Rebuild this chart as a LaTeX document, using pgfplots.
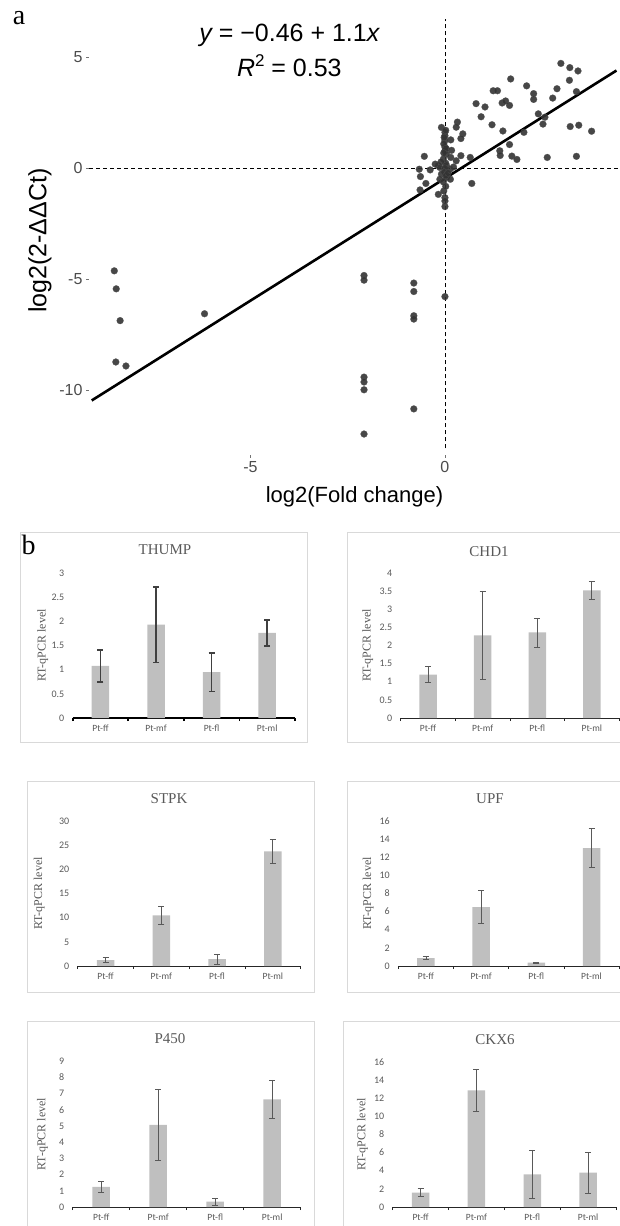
\documentclass[border=0pt]{standalone}
\usepackage{pgfplots}
\pgfplotsset{compat=1.18}
\usepackage{fontspec}
\setmainfont{Liberation Serif}
\newfontfamily\arial{Liberation Sans}
\newfontfamily\calibri{Carlito}
\definecolor{barfill}{HTML}{BFBFBF}
\definecolor{txtgray}{HTML}{595959}
\definecolor{boxgray}{HTML}{D9D9D9}
\definecolor{ptfill}{HTML}{333333}
\definecolor{errdark}{HTML}{404040}

\pgfplotsset{
  barchart/.style={
    scale only axis, anchor=south west,
    xmin=0.5, xmax=4.5, ymin=0,
    axis x line*=bottom, axis y line*=left,
    y axis line style={draw=none},
    x axis line style={draw=black!85, line width=0.8pt},
    xtick={1,2,3,4}, xticklabels={Pt-ff,Pt-mf,Pt-fl,Pt-ml},
    minor xtick={0.5,1.5,2.5,3.5,4.5},
    major tick length=0pt, minor tick length=3pt, tick align=outside,
    minor tick style={draw=black!85, line width=0.8pt},
    /pgf/number format/assume math mode=true,
    tick label style={font=\calibri\fontsize{9.5}{10}\selectfont, text=txtgray},
    yticklabel style={font=\calibri\fontsize{10}{10}\selectfont, xshift=-5pt},
    xticklabel style={yshift=-3pt},
    ylabel={RT-qPCR level},
    ylabel style={font=\fontsize{12}{13}\selectfont, text=txtgray, anchor=center},
    clip=false,
  },
  barplot/.style={ybar, bar width=17.5pt, fill=barfill, draw=none,
    error bars/y dir=both, error bars/y explicit,
    error bars/error bar style={draw=txtgray, line width=0.8pt},
    error bars/error mark options={rotate=90, draw=txtgray, line width=0.8pt, mark size=3pt}},
}

\begin{document}
\begin{tikzpicture}[x=1pt,y=1pt]
\path[use as bounding box] (0,0) rectangle (620,-1226);
\clip (0,0) rectangle (620,-1226);

% ---------------- panel a ----------------
\begin{axis}[at={(89pt,-454.7pt)}, anchor=south west, scale only axis,
  width=531pt, height=436pt,
  xmin=-9.15, xmax=4.5, ymin=-12.89, ymax=6.72,
  axis line style={draw=none},
  xtick={-5,0}, xticklabels={-5,0},
  ytick={-10,-5,0,5}, yticklabels={-10,-5,0,5},
  tick pos=left, tick align=outside, major tick length=3pt,
  tick style={draw=black!55, line width=0.6pt},
  tick label style={font=\arial\fontsize{16}{16}\selectfont, text=black!70},
  xlabel={log2(Fold change)}, ylabel={log2(2-ΔΔCt)},
  xlabel style={font=\arial\fontsize{22}{22}\selectfont,
    at={(axis description cs:0.5,0)}, anchor=north, yshift=-28pt},
  ylabel style={font=\arial\fontsize{25}{25}\selectfont,
    at={(axis description cs:-0.0923,0.491)}, anchor=center},
  clip=false]
\addplot[black, line width=0.7pt, dash pattern=on 4pt off 3pt] coordinates {(0,-12.6) (0,6.72)};
\addplot[black, line width=0.7pt, dash pattern=on 4pt off 3pt] coordinates {(-9.15,0) (4.5,0)};
\addplot[only marks, mark=*, mark size=3.4pt,
  mark options={fill=ptfill, draw=ptfill!85!white, line width=0.3pt, opacity=0.9}]
coordinates {
(-8.50,-4.62) (-8.45,-5.43) (-8.35,-6.86) (-8.46,-8.72) (-8.20,-8.90) (-6.18,-6.55)
(-2.08,-4.83) (-2.08,-5.04) (-2.08,-9.40) (-2.08,-9.62) (-2.08,-9.97) (-2.08,-11.96)
(-0.80,-5.17) (-0.80,-5.55) (-0.80,-6.64) (-0.80,-6.79) (-0.80,-10.83) (0.00,-5.78)
(2.98,4.71) (3.21,4.52) (3.42,4.37) (1.69,4.01) (3.20,3.95) (2.10,3.70)
(1.24,3.48) (1.35,3.48) (2.88,3.57) (2.28,3.35) (3.38,3.44) (2.28,3.09)
(2.77,3.15) (0.80,2.90) (1.03,2.75) (1.47,2.93) (1.56,3.02) (1.66,2.82)
(0.93,2.31) (1.21,1.95) (2.40,2.44) (2.57,2.29) (2.52,1.98) (2.03,1.61)
(1.49,1.67) (3.22,1.87) (3.44,1.93) (3.77,1.66) (1.66,1.06) (1.41,0.78)
(1.42,0.57) (1.72,0.54) (1.85,0.39) (2.63,0.48) (3.38,0.53) (0.65,0.48)
(0.69,-0.69) (-0.53,0.53) (-0.66,-0.05) (-0.63,-0.38) (-0.38,-0.08) (-0.49,-0.69)
(-0.64,-0.98) (-0.09,1.83) (0.00,1.61) (0.32,2.07) (0.29,1.84) (0.46,1.54)
(0.41,1.33) (0.15,1.27) (0.41,0.56) (0.29,0.33) (0.15,0.48) (0.00,1.24)
(0.00,0.94) (0.00,0.78) (0.04,0.63) (-0.04,0.41) (-0.17,0.11) (-0.13,0.03)
(0.04,0.11) (0.13,-0.05) (-0.09,-0.27) (0.04,-0.42) (0.14,-0.50) (-0.13,-0.50)
(-0.17,-1.18) (-0.03,-1.03) (0.00,-1.33) (0.00,-1.73) (0.00,1.46) (-0.03,1.09)
(0.02,1.70) (-0.02,1.38) (0.03,0.88) (-0.03,0.68) (0.02,0.22) (0.00,0.00)
(-0.02,-0.18) (0.03,-0.33) (-0.04,-0.62) (0.02,-0.82) (0.00,-1.48) (-0.25,0.18)
(0.22,0.05) (0.08,-0.22) (-0.10,0.28) (0.17,0.80)
};
\addplot[black, line width=2.6pt] coordinates {(-9.08,-10.45) (4.41,4.39)};
\node[font=\arial\fontsize{25}{25}\selectfont] at (axis cs:-4.0,5.98)
  {{\itshape y} = −0.46 + 1.1{\itshape x}};
\node[font=\arial\fontsize{25}{25}\selectfont] at (axis cs:-4.0,4.61)
  {{\itshape R}\raisebox{0.42em}{\fontsize{17}{17}\selectfont 2} = 0.53};
\end{axis}
\node[font=\fontsize{28}{28}\selectfont] at (19,-18) {a};

% ---------------- panel b ----------------
\draw[boxgray, line width=1pt] (20,-532) rectangle (307,-742.7);
\draw[boxgray, line width=1pt] (347,-532) rectangle (640,-742.7);
\draw[boxgray, line width=1pt] (27,-781) rectangle (314,-992);
\draw[boxgray, line width=1pt] (347.5,-781) rectangle (640,-992);
\draw[boxgray, line width=1pt] (27,-1021) rectangle (314,-1240);
\draw[boxgray, line width=1pt] (343.5,-1021) rectangle (640,-1240);
\node[font=\fontsize{28}{28}\selectfont] at (28.5,-545) {b};

\node[font=\fontsize{15}{15}\selectfont, text=txtgray] at (165,-549.5) {THUMP};
\node[font=\fontsize{15}{15}\selectfont, text=txtgray] at (489,-552) {CHD1};
\node[font=\fontsize{15}{15}\selectfont, text=txtgray] at (169,-799) {STPK};
\node[font=\fontsize{15}{15}\selectfont, text=txtgray] at (490,-799) {UPF};
\node[font=\fontsize{15}{15}\selectfont, text=txtgray] at (170,-1039) {P450};
\node[font=\fontsize{15}{15}\selectfont, text=txtgray] at (495,-1040) {CKX6};

% THUMP
\begin{axis}[barchart, at={(72.7pt,-718pt)}, width=222.3pt, height=145pt,
  ymax=3, ytick={0,0.5,1,1.5,2,2.5,3},
  x axis line style={draw=black, line width=1.8pt},
  minor tick style={draw=black, line width=1.8pt},
  ylabel style={at={(axis description cs:-0.135,0.5)}}]
\addplot[barplot, error bars/error bar style={draw=errdark, line width=1.6pt},
  error bars/error mark options={rotate=90, draw=errdark, line width=1.6pt, mark size=3pt}]
  coordinates {(1,1.08) +- (0,0.33) (2,1.93) +- (0,0.78) (3,0.95) +- (0,0.40) (4,1.76) +- (0,0.27)};
\end{axis}

% CHD1
\begin{axis}[barchart, at={(400.7pt,-718pt)}, width=218.5pt, height=145pt,
  ymax=4, ytick={0,0.5,1,1.5,2,2.5,3,3.5,4},
  ylabel style={at={(axis description cs:-0.151,0.5)}}]
\addplot[barplot]
  coordinates {(1,1.20) +- (0,0.23) (2,2.28) +- (0,1.21) (3,2.36) +- (0,0.40) (4,3.52) +- (0,0.24)};
\end{axis}

% STPK
\begin{axis}[barchart, at={(77.7pt,-966pt)}, width=223pt, height=145pt,
  ymax=30, ytick={0,5,10,15,20,25,30},
  ylabel style={at={(axis description cs:-0.172,0.5)}}]
\addplot[barplot]
  coordinates {(1,1.2) +- (0,0.5) (2,10.5) +- (0,1.9) (3,1.4) +- (0,1.05) (4,23.7) +- (0,2.45)};
\end{axis}

% UPF
\begin{axis}[barchart, at={(398.3pt,-966pt)}, width=220.8pt, height=145pt,
  ymax=16, ytick={0,2,4,6,8,10,12,14,16},
  ylabel style={at={(axis description cs:-0.136,0.5)}}]
\addplot[barplot]
  coordinates {(1,0.88) +- (0,0.18) (2,6.5) +- (0,1.85) (3,0.37) +- (0,0.08) (4,13.0) +- (0,2.17)};
\end{axis}

% P450
\begin{axis}[barchart, at={(72.7pt,-1207pt)}, width=228pt, height=145.7pt,
  ymax=9, ytick={0,1,2,3,4,5,6,7,8,9},
  ylabel style={at={(axis description cs:-0.132,0.5)}}]
\addplot[barplot]
  coordinates {(1,1.24) +- (0,0.35) (2,5.07) +- (0,2.2) (3,0.33) +- (0,0.23) (4,6.65) +- (0,1.2)};
\end{axis}

% CKX6
\begin{axis}[barchart, at={(392.7pt,-1207pt)}, width=223.3pt, height=145pt,
  ymax=16, ytick={0,2,4,6,8,10,12,14,16},
  ylabel style={at={(axis description cs:-0.135,0.5)}}]
\addplot[barplot]
  coordinates {(1,1.58) +- (0,0.46) (2,12.87) +- (0,2.3) (3,3.60) +- (0,2.7) (4,3.79) +- (0,2.24)};
\end{axis}

\end{tikzpicture}
\end{document}
